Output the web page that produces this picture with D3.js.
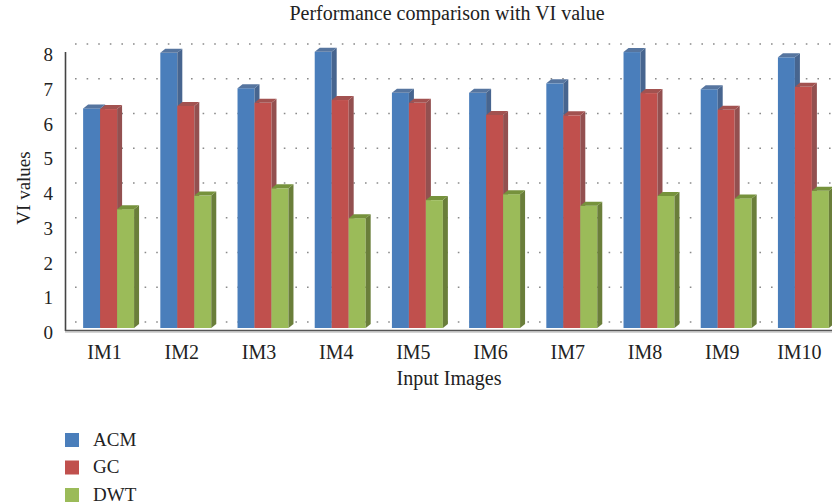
<!DOCTYPE html>
<html>
<head>
<meta charset="utf-8">
<script src="https://cdn.jsdelivr.net/npm/d3@7"></script>
<style>
  body { margin: 0; background: #fff; }
  svg text { font-family: "Liberation Serif", "DejaVu Serif", serif; fill: #222; }
</style>
</head>
<body>
<div id="chart"></div>
<script>
'use strict';

// Chart data
const categories = ['IM1', 'IM2', 'IM3', 'IM4', 'IM5', 'IM6', 'IM7', 'IM8', 'IM9', 'IM10'];
const seriesNames = ['ACM', 'GC', 'DWT'];
const acmValues = [6.32, 7.92, 6.90, 7.95, 6.77, 6.77, 7.04, 7.94, 6.87, 7.79];
const gcValues  = [6.30, 6.39, 6.48, 6.56, 6.48, 6.13, 6.12, 6.76, 6.28, 6.94];
const dwtValues = [3.42, 3.81, 4.02, 3.16, 3.68, 3.85, 3.52, 3.80, 3.73, 3.95];
const yTicks = [0, 1, 2, 3, 4, 5, 6, 7, 8];

const seriesValues = [acmValues, gcValues, dwtValues];

// Front / top / side shades for the fake 3D columns
const colors = [
    { front: '#4a7ebb', top: '#56759f', side: '#47658f' },
    { front: '#c0504d', top: '#a25250', side: '#935050' },
    { front: '#9bbb59', top: '#76923c', side: '#6a7e3a' }
];

const width = 832, height = 504;
const depthX = 5, depthY = 4;     // projection of column depth
const wallX = 9, wallY = 6;       // projection of back wall offset

const svg = d3.select('#chart').append('svg')
    .attr('width', width)
    .attr('height', height);

const x = d3.scaleBand()
    .domain(categories)
    .range([70, 842])
    .paddingInner(0.34)
    .paddingOuter(0.17);

const y = d3.scaleLinear()
    .domain([0, 8])
    .range([328, 50]);

// Dotted gridlines on the back wall
svg.append('g')
    .selectAll('line')
    .data(yTicks)
    .join('line')
    .attr('x1', 65 + wallX + 1)
    .attr('x2', width)
    .attr('y1', d => y(d) - wallY)
    .attr('y2', d => y(d) - wallY)
    .attr('stroke', '#8a8a8a')
    .attr('stroke-width', 1.6)
    .attr('stroke-dasharray', '1.6,10');

// Columns
const groups = svg.append('g')
    .selectAll('g')
    .data(categories)
    .join('g')
    .attr('transform', d => `translate(${x(d)},0)`);

const bw = x.bandwidth() / seriesNames.length;

groups.each(function(cat, i){
    const g = d3.select(this);
    seriesValues.forEach((vals, j) => {
        const v = vals[i];
        const x0 = j * bw, x1 = x0 + bw;
        const top = y(v), bottom = y(0);
        const c = colors[j];

        g.append('rect')
            .attr('x', x0)
            .attr('y', top)
            .attr('width', bw)
            .attr('height', bottom - top)
            .attr('fill', c.front);

        g.append('polygon')
            .attr('points', [[x1, top], [x1 + depthX, top - depthY],
                [x1 + depthX, bottom - depthY], [x1, bottom]].join(' '))
            .attr('fill', c.side);

        g.append('polygon')
            .attr('points', [[x0, top], [x0 + depthX, top - depthY],
                [x1 + depthX, top - depthY], [x1, top]].join(' '))
            .attr('fill', c.top);
    });
});

// Axis lines
svg.append('line')
    .attr('x1', 65.5).attr('x2', 65.5)
    .attr('y1', 52).attr('y2', 331)
    .attr('stroke', '#444').attr('stroke-width', 1.6);

svg.append('line')
    .attr('x1', 65).attr('x2', width)
    .attr('y1', 330.5).attr('y2', 330.5)
    .attr('stroke', '#555').attr('stroke-width', 1.6);
svg.append('line')
    .attr('x1', 65).attr('x2', width)
    .attr('y1', 332).attr('y2', 332)
    .attr('stroke', '#aaa').attr('stroke-width', 1);

// Y tick labels
svg.append('g')
    .selectAll('text')
    .data(yTicks)
    .join('text')
    .attr('x', 53)
    .attr('y', d => y(d) + 11)
    .attr('text-anchor', 'end')
    .attr('font-size', 19)
    .text(d => d);

// X tick labels
svg.append('g')
    .selectAll('text')
    .data(categories)
    .join('text')
    .attr('x', d => x(d) + x.bandwidth() / 2 - 4)
    .attr('y', 359)
    .attr('text-anchor', 'middle')
    .attr('font-size', 20)
    .text(d => d);

// Titles
svg.append('text')
    .attr('x', 447)
    .attr('y', 20)
    .attr('text-anchor', 'middle')
    .attr('font-size', 20)
    .text('Performance comparison with VI value');

svg.append('text')
    .attr('x', 449)
    .attr('y', 385)
    .attr('text-anchor', 'middle')
    .attr('font-size', 20)
    .text('Input Images');

svg.append('text')
    .attr('transform', 'translate(30,188) rotate(-90)')
    .attr('text-anchor', 'middle')
    .attr('font-size', 19)
    .text('VI values');

// Legend
const legend = svg.append('g')
    .selectAll('g')
    .data(seriesNames)
    .join('g')
    .attr('transform', (d, i) => `translate(65,${433 + i * 27.5})`);

legend.append('rect')
    .attr('width', 14)
    .attr('height', 14)
    .attr('fill', (d, i) => colors[i].front);

legend.append('text')
    .attr('x', 28)
    .attr('y', 12.5)
    .attr('font-size', 19)
    .text(d => d);
</script>
</body>
</html>
